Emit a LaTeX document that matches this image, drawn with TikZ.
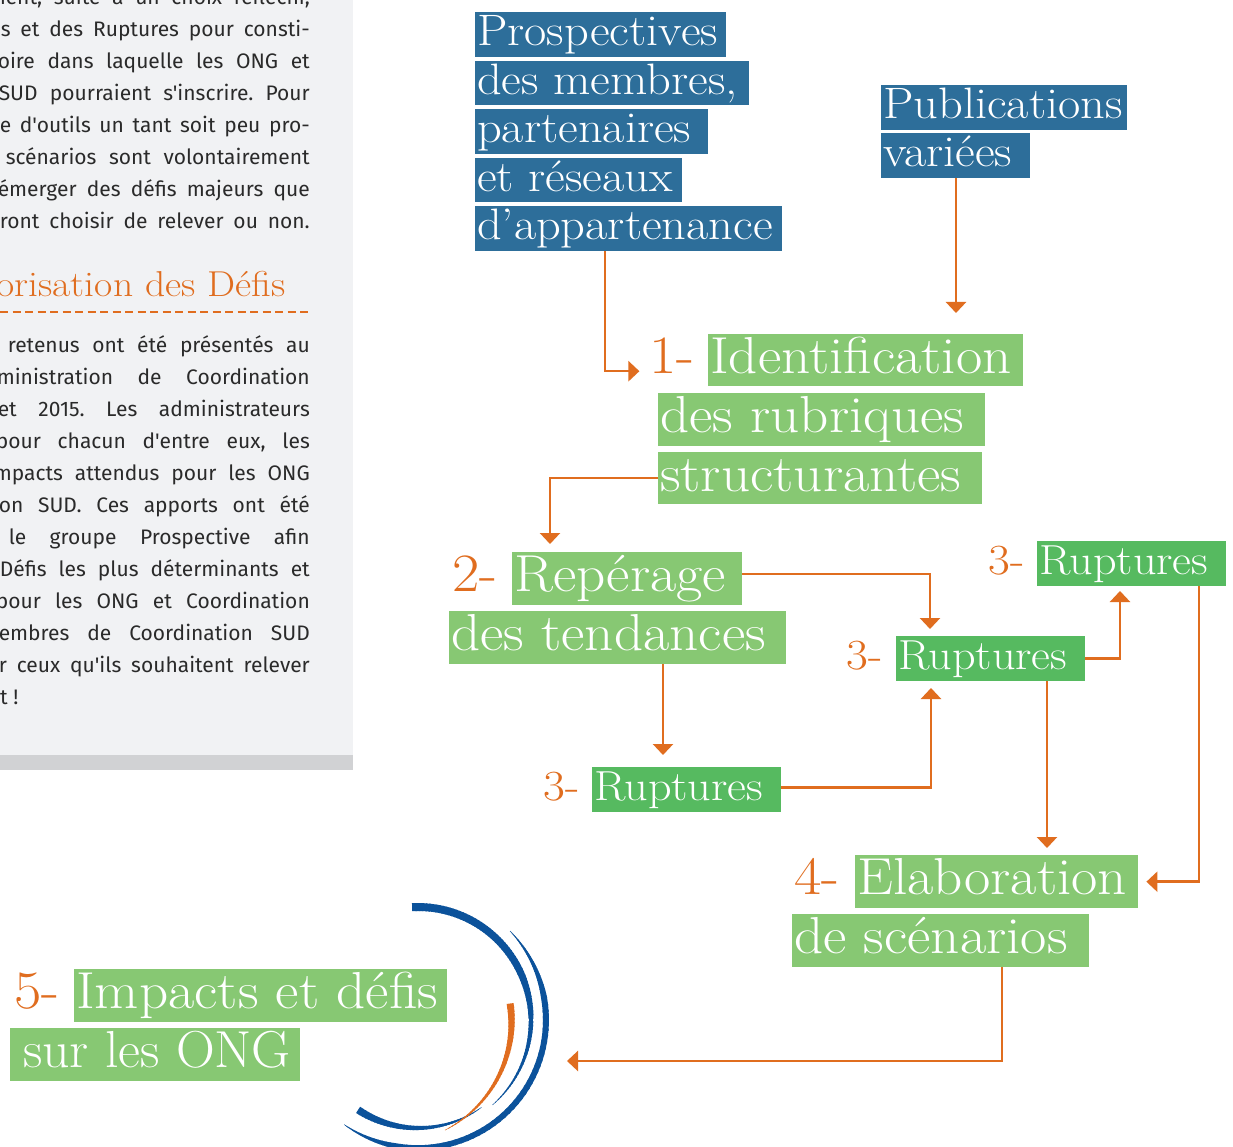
\documentclass[tikz,border=0pt]{standalone}
\usepackage{fontspec}
\usetikzlibrary{arrows.meta}
\newfontfamily\bodyfont{Fira Sans}
\newfontfamily\boxfont[FakeStretch=1.1]{Latin Modern Roman}
\definecolor{cblue}{HTML}{2D6E9A}
\definecolor{cgreen}{HTML}{87C873}
\definecolor{crup}{HTML}{56BA60}
\definecolor{corange}{HTML}{E06D1F}
\definecolor{carc}{HTML}{0B529B}
\definecolor{cpanel}{HTML}{F1F2F4}
\definecolor{cstrip}{HTML}{D1D2D4}
\definecolor{ctext}{HTML}{2A2A2A}
\frenchspacing
\newcommand\arcpiece[9]{%
 \foreach \k in {1,...,40}{%
  \pgfmathsetmacro\tAa{#5+(#6-#5)*(\k-1)/40}%
  \pgfmathsetmacro\tAb{#5+(#6-#5)*(\k+0.4)/40}%
  \pgfmathsetmacro\tRa{#3+(#4-#3)*(\k-1)/40}%
  \pgfmathsetmacro\tRb{#3+(#4-#3)*(\k+0.4)/40}%
  \pgfmathsetmacro\tW{#7+(#8-#7)*(\k-0.5)/40}%
  \draw[#9,line width=\tW pt] ({#1+\tRa*cos(\tAa)},{#2-\tRa*sin(\tAa)}) -- ({#1+\tRb*cos(\tAb)},{#2-\tRb*sin(\tAb)});
 }}
\newcommand\bx[2]{\makebox[#1pt][l]{#2}}
\tikzset{
 boxbase/.style={anchor=north west, inner xsep=2pt, inner ysep=0pt, text=white},
 bluebox/.style={boxbase, fill=cblue, text height=30.8pt, text depth=8.8pt, font=\boxfont\fontsize{44}{44}\selectfont},
 greenbox/.style={boxbase, fill=cgreen, text height=36.4pt, text depth=10.4pt, font=\boxfont\fontsize{52}{52}\selectfont},
 rupbox/.style={boxbase, fill=crup, text height=29.4pt, text depth=8.4pt, font=\boxfont\fontsize{42}{42}\selectfont},
 numlab/.style={anchor=base east, text=corange, inner sep=0pt, font=\boxfont\fontsize{54}{54}\selectfont},
 numsmall/.style={numlab, font=\boxfont\fontsize{43}{43}\selectfont},
 arr/.style={draw=corange, line width=2.5pt, -{Triangle[width=20pt,length=11pt]}},
 bodyline/.style={anchor=base east, inner sep=0pt, text=ctext, font=\bodyfont\fontsize{21}{21}\selectfont\frenchspacing},
}
\begin{document}
\begin{tikzpicture}[x=1pt,y=-1pt]
\useasboundingbox (0,0) rectangle (1233,1147);
\clip (0,0) rectangle (1233,1147);
\fill[white] (0,0) rectangle (1233,1147);
% left panel
\fill[cpanel] (0,0) rectangle (353,755);
\fill[cstrip] (0,755) rectangle (353,770);
\node[bodyline] (ta) at (310,5) {\makebox[322pt][s]{ment, suite à un choix réfléchi,}};
\node[bodyline] (tb) at (310,37) {\makebox[309pt][s]{s et des Ruptures pour consti-}};
\node[bodyline] (tc) at (310,69) {\makebox[312pt][s]{oire dans laquelle les ONG et}};
\node[bodyline] (td) at (310,101) {\makebox[311pt][s]{SUD pourraient s'inscrire. Pour}};
\node[bodyline] (te) at (310,133) {\makebox[310pt][s]{e d'outils un tant soit peu pro-}};
\node[bodyline] (tf) at (310,165) {\makebox[304pt][s]{scénarios sont volontairement}};
\node[bodyline] (tg) at (310,197) {\makebox[312pt][s]{émerger des défis majeurs que}};
\node[bodyline] (th) at (310,229) {\makebox[310pt][s]{ront choisir de relever ou non.}};
\node[anchor=base east, inner sep=0pt, text=corange, font=\boxfont\fontsize{36}{36}\selectfont] (hd) at (286,297) {orisation des Défis};
\draw[corange, line width=2pt, dash pattern=on 8pt off 4.5pt] (0,312) -- (310,312);
\node[bodyline] (sa) at (310,352) {\makebox[302pt][s]{retenus ont été présentés au}};
\node[bodyline] (sb) at (310,384) {\makebox[313pt][s]{ministration de Coordination}};
\node[bodyline] (sc) at (310,416) {\makebox[312pt][s]{et 2015. Les administrateurs}};
\node[bodyline] (sd) at (310,448) {\makebox[314pt][s]{pour chacun d'entre eux, les}};
\node[bodyline] (se) at (310,480) {\makebox[316pt][s]{mpacts attendus pour les ONG}};
\node[bodyline] (sf) at (310,512) {\makebox[311pt][s]{on SUD. Ces apports ont été}};
\node[bodyline] (sg) at (310,544) {\makebox[301pt][s]{le groupe Prospective afin}};
\node[bodyline] (sh) at (310,576) {\makebox[310pt][s]{Défis les plus déterminants et}};
\node[bodyline] (si) at (310,608) {\makebox[314pt][s]{pour les ONG et Coordination}};
\node[bodyline] (sj) at (310,640) {\makebox[311pt][s]{embres de Coordination SUD}};
\node[bodyline] (sk) at (310,672) {\makebox[311pt][s]{r ceux qu'ils souhaitent relever}};
\node[bodyline, anchor=base west] (sl) at (0,704) {t !};
% blue boxes
\node[bluebox, minimum height=45pt] (P1) at (475,12) {\bx{247}{Prospectives}};
\node[bluebox, minimum height=44pt] (P2) at (475,61) {\bx{270}{des membres,}};
\node[bluebox, minimum height=45pt] (P3) at (475,109) {\bx{229}{partenaires}};
\node[bluebox, minimum height=44pt] (P4) at (475,158) {\bx{203}{et réseaux}};
\node[bluebox, minimum height=45pt] (P5) at (475,206) {\bx{303}{d’appartenance}};
\node[bluebox, minimum height=45pt] (U1) at (881,85) {\bx{242}{Publications}};
\node[bluebox, minimum height=45pt] (U2) at (881,133) {\bx{145}{variées}};
% green boxes
\node[greenbox, minimum height=52pt] (I1) at (708,334) {\bx{311}{Identification}};
\node[greenbox, minimum height=53pt] (I2) at (658,393) {\bx{323}{des rubriques}};
\node[greenbox, minimum height=52pt] (I3) at (658,452) {\bx{320}{structurantes}};
\node[greenbox, minimum height=53pt] (R1) at (512,552) {\bx{226}{Repérage}};
\node[greenbox, minimum height=53pt] (R2) at (449,611) {\bx{333}{des tendances}};
\node[rupbox, minimum height=45pt] (Ra) at (1037,541) {\bx{185}{Ruptures}};
\node[rupbox, minimum height=45pt] (Rb) at (896,636) {\bx{185}{Ruptures}};
\node[rupbox, minimum height=45pt] (Rc) at (592,767) {\bx{185}{Ruptures}};
\node[greenbox, minimum height=53pt] (E1) at (855,855) {\bx{279}{Elaboration}};
\node[greenbox, minimum height=53pt] (E2) at (792,914) {\bx{293}{de scénarios}};
\node[greenbox, minimum height=53pt] (M1) at (74,969) {\bx{369}{Impacts et défis}};
\node[greenbox, minimum height=53pt] (M2) at (10,1028) {\bx{286}{\hspace*{11pt}\scalebox{0.94}[1]{sur les ONG}}};
% number labels
\node[numlab] (L1) at ([xshift=-13pt]I1.base west) {1-};
\node[numlab] (L2) at ([xshift=-14pt]R1.base west) {2-};
\node[numsmall] (La) at ([xshift=-12pt]Ra.base west) {3-};
\node[numsmall] (Lb) at ([xshift=-13pt]Rb.base west) {3-};
\node[numsmall] (Lc) at ([xshift=-12pt]Rc.base west) {3-};
\node[numlab] (L4) at ([xshift=-15pt]E1.base west) {4-};
\node[numlab] (L5) at ([xshift=-14pt]M1.base west) {5-};
% connector turning points / free ends
\coordinate (k1) at (605,0);
\coordinate (k2) at (956,313);
\coordinate (k3) at (550,544);
\coordinate (k4) at (930,629);
\coordinate (k5) at (663,755);
\coordinate (k6) at (931,688);
\coordinate (k7) at (1120,591);
\coordinate (k8) at (1047,848);
\coordinate (k9) at (1199,0);
\coordinate (k10a) at (1002,0);
\coordinate (k10) at (567,1061);
% connectors
\draw[arr] (P5.south -| k1) |- ([xshift=-10pt,yshift=2pt]L1.base west);
\draw[arr] (U2.south -| k2) -- (k2);
\draw[arr] (I3.west) -| (k3);
\draw[arr] ([yshift=4.5pt]R1.east) -| (k4);
\draw[arr] (R2.south -| k5) -- (k5);
\draw[arr] ([yshift=2pt]Rc.east) -| (k6);
\draw[arr] (Rb.east) -| (k7);
\draw[arr] (Rb.south -| k8) -- (k8);
\draw[arr] (Ra.south -| k9) |- ([xshift=8pt]E1.east);
\draw[arr] (E2.south -| k10a) |- (k10);
% arcs
\arcpiece{418}{1020}{113}{113}{93}{25}{8}{7}{carc}
\arcpiece{418}{1020}{113}{113}{25}{-48}{7}{0.4}{carc}
\arcpiece{418}{1020}{108}{108}{-54}{-123}{0.4}{7.5}{carc}
\arcpiece{418}{1020}{128}{128}{44}{10}{0.4}{6}{carc}
\arcpiece{418}{1020}{128}{128}{10}{-100}{6}{5.5}{carc}
\arcpiece{418}{1020}{128}{128}{-100}{-125}{5.5}{0.4}{carc}
\arcpiece{392}{1018}{119}{124}{7}{-64}{7}{0.4}{corange}
\end{tikzpicture}
\end{document}
